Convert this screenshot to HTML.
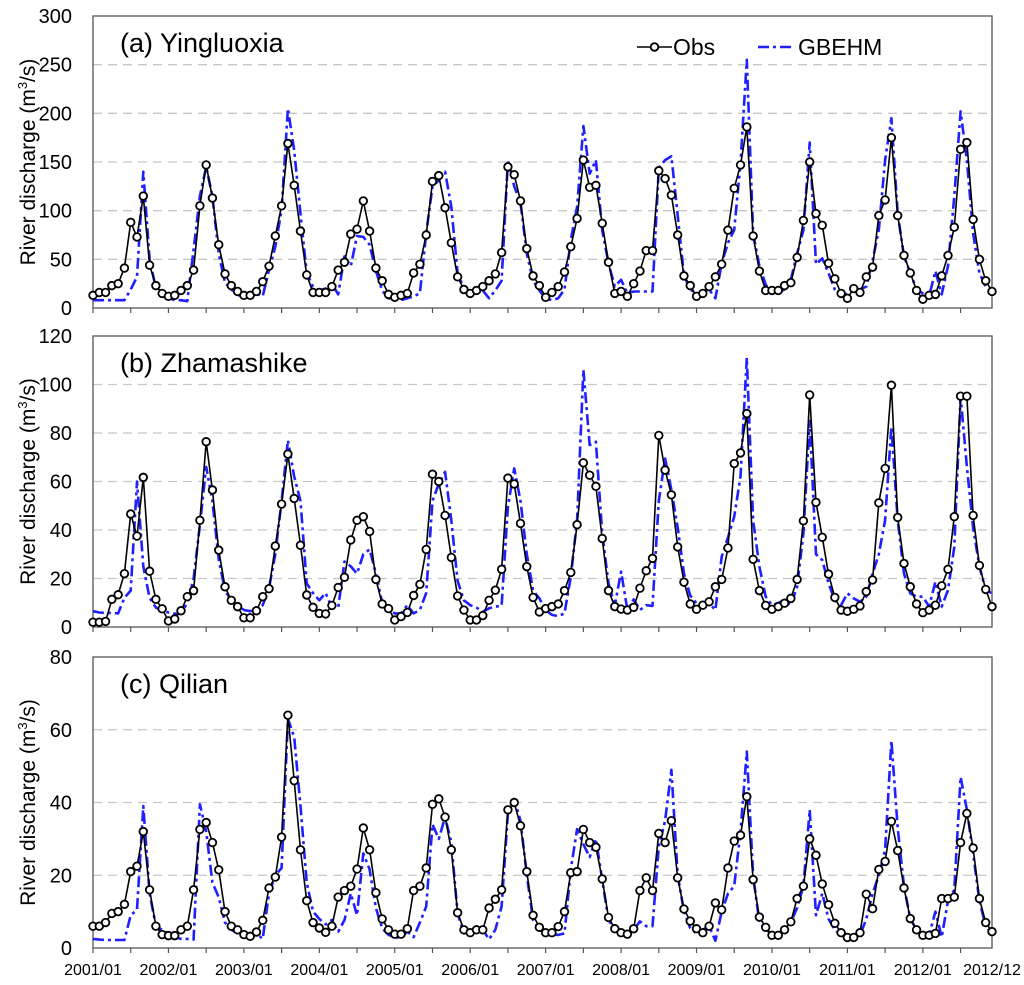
<!DOCTYPE html>
<html><head><meta charset="utf-8">
<style>
html,body{margin:0;padding:0;background:#fff;}
svg{display:block;font-family:"Liberation Sans",Arial,sans-serif;}
</style></head>
<body>
<svg id="chart" width="1024" height="985" viewBox="0 0 1024 985" xmlns="http://www.w3.org/2000/svg"></svg>
<script>
const xTickLabels = ["2001/01","2002/01","2003/01","2004/01","2005/01","2006/01","2007/01","2008/01","2009/01","2010/01","2011/01","2012/01","2012/12"];
const seriesNames = ["Obs","GBEHM"];
const panelTitles = ["(a)  Yingluoxia","(b)  Zhamashike","(c)  Qilian"];
const yMaxA = 300, yStepA = 50;
const yMaxB = 120, yStepB = 20;
const yMaxC = 80, yStepC = 20;

const obsA = [13,16,16,23,25,41,88,73,115,44,23,15,
12,13,18,23,39,105,147,113,65,35,23,17,
13,13,17,27,43,74,105,169,126,79,34,16,
16,16,22,39,47,76,81,110,79,41,28,14,
11,13,15,36,45,75,130,136,103,67,32,19,
15,18,22,28,35,57,145,137,110,61,33,23,
11,16,22,37,63,92,152,124,126,87,47,15,
17,12,25,38,59,59,141,133,116,75,33,23,
12,15,22,32,45,80,123,147,186,74,38,18,
18,18,23,26,52,90,150,97,85,46,30,15,
10,20,16,32,42,95,111,175,95,54,36,18,
9,13,14,33,54,83,163,170,91,50,28,17];
const simA = [8,8,8,8,8,8,19,32,140,50,20,12,
10,8,8,7,60,115,145,115,56,26,19,14,
10,12,15,12,39,63,101,205,162,97,36,22,
18,20,25,14,53,43,74,73,65,38,18,10,
8,8,10,12,15,77,125,131,140,104,36,20,
17,15,18,10,18,28,152,125,108,56,28,18,
10,8,10,19,70,104,187,138,152,80,46,22,
29,15,17,17,17,17,144,152,156,95,33,19,
15,15,19,10,46,67,80,149,255,77,43,24,
15,16,19,29,56,80,170,45,51,36,19,12,
15,19,19,22,49,80,152,195,97,53,36,19,
15,12,38,14,43,115,202,152,77,36,22,15];
const obsB = [2,2,2.3,11.4,13.3,22,46.6,37.5,61.7,23,11.4,7.5,
2.5,3.3,6.7,12.5,15,44,76.4,56.5,31.7,16.6,11,8.4,
3.8,3.8,6.7,12.5,15.8,33.4,50.7,71.3,53,33.7,13.2,8.1,
5.6,5.4,8.9,16.3,20.5,35.9,44,45.5,39.4,19.6,9.5,7.6,
2.9,4.3,6,13,17.6,32,63,60,46,28.7,12.8,7,
2.9,2.9,4.7,11,15.2,23.8,61.4,59,42.7,24.9,12.2,6.2,
7.6,8.4,9.5,15,22.5,42.2,67.7,62.6,58,36.5,15,8.4,
7.4,7,8.1,16,23.2,28.3,79,64.7,54.5,33,18.5,9.5,
7.3,9,10.4,16.6,19.6,32.6,67.4,71.8,88,27.9,15,8.9,
7.3,8.4,9.8,11.8,19.6,43.8,95.7,51.4,37,21.8,12.2,7,
6.5,7.3,8.7,14.6,19.4,51.2,65.4,99.7,45.2,26.2,16.6,9.5,
5.9,7,9,17,23.8,45.5,95.2,95.2,46,25.4,15.5,8.4];
const simB = [6.5,6,5.8,5.8,5.6,12,15,60,25,12,8,7,
6,5.5,5.5,10,20,42,66,52,28,15,11,9,
7,6.5,7,9,16,30,52,77,62,52,18,14,
11,14,8,8,27,25,22,30,32,22,10,7,
5.6,5.6,9,5.6,7,14,52,59,64,44,19,11,
9,8,6.3,7.7,8.4,8.7,49.6,65.4,52,30,15,11.8,
7,5,4.5,5.6,20.7,44,106,75,76.4,38.6,18,9,
22.8,7,11.4,7,9,8.7,52,69.5,56.5,41,22,13,
9.8,8.4,9.8,7,29,37,45.5,62,111,44,24.9,12.5,
9,10,11,9,16.6,38.6,85,30,27.6,18,11,9,
13.9,11.8,10.4,12.5,22,30,44,82.6,44,22,13.9,12.5,
12.5,8.4,18.7,8.4,15.2,33,95,66,41,25,15.2,13.9];
const obsC = [6,6,7,9.5,10,12,21,22.5,32,16,6,3.7,
3.4,3.4,5,6,16,32.6,34.5,29,21.5,10,6,5,
3.7,3.2,4.4,7.6,16.5,19.5,30.5,64,46,27,13,7,
5.5,4.3,6,14,15.8,17,21.7,33,27,15.2,8,5,
3.8,3.8,5.3,15.8,17,22,39.5,41,36,27,9.7,5,
4.2,5,5,11,13.4,16,38,40,33.6,21,9,5.7,
4.2,4.2,5.9,10,20.7,21,32.6,29,27.7,19,8.4,5.3,
4.2,3.8,5.3,15.8,19.3,15.8,31.5,29,35,19.3,10.7,7.4,
5.3,4.2,6,12.4,10.5,22,29.4,31,41.6,18.8,8.5,5.7,
3.5,3.5,5,7.2,13.6,17,30,25.5,17.6,11.9,6.8,4.2,
2.9,2.9,4.2,14.8,10.8,21.6,23.8,34.8,26.8,16.5,8.1,5,
3.5,3.5,4,13.6,13.6,14,29,37,27.5,13.6,7,4.5];
const simC = [2.5,2.3,2.2,2.2,2.2,2.2,9,10.5,39,15,6,5,
4,3,2.5,2.5,2.3,39.5,32,18,14,7,5,4,
3,2.5,4,2.5,15,20,22,63,58,39,18,10,
8,6.5,7.7,4.5,7.7,15,9,26,21.6,11,5.4,3.6,
3,2.7,4.5,3,7,11.4,34,30,36,29,9.5,4,
5,6,5,2.4,5,11.4,37,41,35,20,7.7,5,
4,3.7,3.6,4,21.6,32.7,28.5,25,30,18.8,7.7,5,
4,3,5,7.3,6,6,28,35,49,20,10,5.5,
4,5,6,2,10,15,17,32,54,20,7,5,
4,3.5,4.5,7,11,17,38,9,15,8,5,3.5,
3,3,3.5,8,15,20,27,57,33,17,8,5,
3.5,3.5,10,3,13,16,47,38,26,13,6,4];

const NS = "http://www.w3.org/2000/svg";
const svg = document.getElementById("chart");
const X0 = 93, X1 = 992;
const panels = [
  {top:16, bot:308, max:yMaxA, step:yStepA, obs:obsA, sim:simA, title:panelTitles[0], key:"a"},
  {top:336, bot:627, max:yMaxB, step:yStepB, obs:obsB, sim:simB, title:panelTitles[1], key:"b"},
  {top:657, bot:948, max:yMaxC, step:yStepC, obs:obsC, sim:simC, title:panelTitles[2], key:"c"}
];
function mk(tag, attrs, parent){
  const e = document.createElementNS(NS, tag);
  for (const k in attrs) e.setAttribute(k, attrs[k]);
  (parent||svg).appendChild(e);
  return e;
}
function xScale(i){ return X0 + (X1 - X0) * i / 143; }

panels.forEach(p => {
  const yScale = v => p.bot - (p.bot - p.top) * v / p.max;
  const g = mk("g", {});
  
  
  for (let v = p.step; v < p.max; v += p.step) {
    const gl = mk("line", {x1:X0, x2:X1, y1:yScale(v), y2:yScale(v), stroke:"#c8c8c8", "stroke-width":1.3, "stroke-dasharray":"9,6"}, g);
    
    
  }
  for (let v = 0; v <= p.max; v += p.step) {
    const t = mk("text", {x:72, y:yScale(v)+7, "text-anchor":"end", "font-size":20, fill:"#000"}, g);
    t.textContent = v;
    
    
  }
  for (let m = 0; m <= 143; m += 6) {
    const tk = mk("line", {x1:xScale(m), x2:xScale(m), y1:p.bot, y2:p.bot+5, stroke:"#555", "stroke-width":1.2}, g);
    
    
  }
  const fr = mk("rect", {x:X0, y:p.top, width:X1-X0, height:p.bot-p.top, fill:"none", stroke:"#555", "stroke-width":1.3}, g);
  
  
  const cy = (p.top + p.bot) / 2;
  const yt = mk("text", {x:0, y:0, transform:"translate(35," + cy + ") rotate(-90)", "text-anchor":"middle", "font-size":21, fill:"#000"}, g);
  yt.innerHTML = 'River discharge (m<tspan dy="-8" font-size="13">3</tspan><tspan dy="8">/s)</tspan>';
  
  
  const pt = mk("text", {x:120, y:p.top+36, "font-size":27, fill:"#000"}, g);
  pt.textContent = p.title;
  
  
  const sp = p.sim.map((v,i) => xScale(i).toFixed(1) + "," + yScale(v).toFixed(1)).join(" ");
  const sl = mk("polyline", {points:sp, fill:"none", stroke:"#1f1fff", "stroke-width":2.6, "stroke-dasharray":"11,4,3,4", "stroke-linejoin":"round"}, g);
  
  
  const op = p.obs.map((v,i) => xScale(i).toFixed(1) + "," + yScale(v).toFixed(1)).join(" ");
  const ol = mk("polyline", {points:op, fill:"none", stroke:"#000", "stroke-width":1.6}, g);
  
  
  p.obs.forEach((v,i) => {
    const c = mk("circle", {cx:xScale(i), cy:yScale(v), r:3.8, fill:"#fff", stroke:"#000", "stroke-width":1.8}, g);
    
    
  });
});

xTickLabels.forEach((lab, i) => {
  const m = i < 12 ? i * 12 : 143;
  const t = mk("text", {x:xScale(m), y:975, "text-anchor":"middle", "font-size":16, fill:"#000"});
  t.textContent = lab;
  
  
});

const lg = mk("g", {});


const l1 = mk("line", {x1:637, x2:672, y1:47, y2:47, stroke:"#000", "stroke-width":1.6}, lg);


const l1c = mk("circle", {cx:654.5, cy:47, r:3.8, fill:"#fff", stroke:"#000", "stroke-width":1.8}, lg);


const t1 = mk("text", {x:673, y:55, "font-size":23, fill:"#000"}, lg);
t1.textContent = seriesNames[0];


const l2 = mk("line", {x1:758, x2:794, y1:47, y2:47, stroke:"#1f1fff", "stroke-width":2.6, "stroke-dasharray":"11,4,3,4"}, lg);


const t2 = mk("text", {x:798, y:55, "font-size":23, fill:"#000"}, lg);
t2.textContent = seriesNames[1];


</script>
</body></html>
